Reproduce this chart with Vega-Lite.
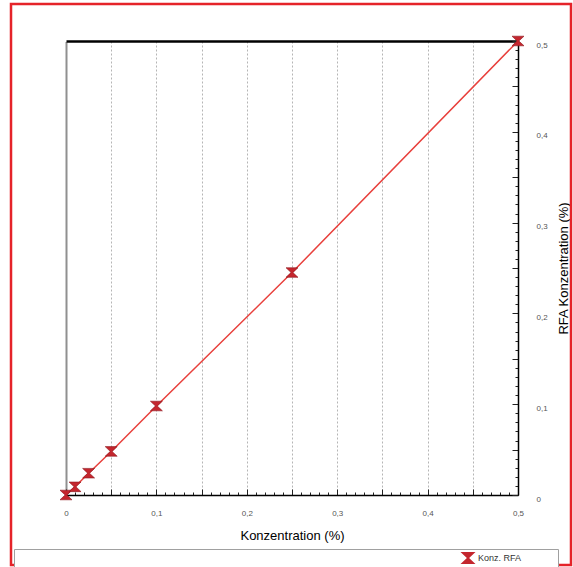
{
  "$schema": "https://vega.github.io/schema/vega-lite/v6.json",
  "width": 452,
  "height": 454,
  "autosize": {"type": "none"},
  "padding": {"left": 66, "top": 41, "right": 55, "bottom": 72},
  "background": "white",
  "config": {
    "view": {"stroke": null},
    "font": "Liberation Sans",
    "axis": {"labelFont": "Liberation Sans", "titleFont": "Liberation Sans"},
    "legend": {"labelFont": "Liberation Sans"}
  },
  "datasets": {
    "messung": [
      {"konz": 0, "rfa": 0, "serie": "Konz. RFA"},
      {"konz": 0.01, "rfa": 0.009, "serie": "Konz. RFA"},
      {"konz": 0.025, "rfa": 0.024, "serie": "Konz. RFA"},
      {"konz": 0.05, "rfa": 0.048, "serie": "Konz. RFA"},
      {"konz": 0.1, "rfa": 0.098, "serie": "Konz. RFA"},
      {"konz": 0.25, "rfa": 0.245, "serie": "Konz. RFA"},
      {"konz": 0.5, "rfa": 0.5, "serie": "Konz. RFA"}
    ]
  },
  "data": {"name": "messung"},
  "resolve": {
    "scale": {"x": "shared", "y": "shared"},
    "axis": {"x": "independent", "y": "independent"}
  },
  "layer": [
    {
      "data": {"values": [{"rahmen": "aussen"}]},
      "mark": {"type": "rect", "fill": null, "stroke": "#e52329", "strokeWidth": 2.5, "clip": false},
      "encoding": {
        "x": {"value": -55},
        "x2": {"value": 505},
        "y": {"value": -37},
        "y2": {"value": 524}
      }
    },
    {
      "mark": {"type": "line", "color": "#e8403c", "strokeWidth": 1.5},
      "encoding": {
        "x": {
          "field": "konz", "type": "quantitative",
          "scale": {"domain": [0, 0.5], "nice": false, "zero": false},
          "axis": {
            "orient": "bottom",
            "values": [0, 0.01, 0.02, 0.03, 0.04, 0.05, 0.06, 0.07, 0.08, 0.09, 0.1, 0.11, 0.12, 0.13, 0.14, 0.15, 0.16, 0.17, 0.18, 0.19, 0.2, 0.21, 0.22, 0.23, 0.24, 0.25, 0.26, 0.27, 0.28, 0.29, 0.3, 0.31, 0.32, 0.33, 0.34, 0.35, 0.36, 0.37, 0.38, 0.39, 0.4, 0.41, 0.42, 0.43, 0.44, 0.45, 0.46, 0.47, 0.48, 0.49, 0.5],
            "labelExpr": "abs(datum.value*10 - round(datum.value*10)) < 0.001 ? (datum.value == 0 ? '0' : replace(format(datum.value, '.1f'), '.', ',')) : ''",
            "labelOverlap": false, "labelFlush": false, "labelBound": false,
            "labelFontSize": 8, "labelColor": "#555555", "labelPadding": 24, "labelBaseline": "middle",
            "ticks": true, "tickColor": "#222222", "tickWidth": 1,
            "tickSize": {"condition": {"test": "abs(datum.value*20 - round(datum.value*20)) < 0.001", "value": -6}, "value": -3},
            "grid": false,
            "domain": true, "domainColor": "#000000", "domainWidth": 1.5,
            "title": "Konzentration (%)", "titleFontSize": 13, "titleFontWeight": "normal", "titleColor": "#000000",
            "titleX": 226, "titleY": 40, "titleBaseline": "middle", "titleAlign": "center"
          }
        },
        "y": {
          "field": "rfa", "type": "quantitative",
          "scale": {"domain": [0, 0.5], "nice": false, "zero": false},
          "axis": {
            "orient": "right",
            "values": [0, 0.01, 0.02, 0.03, 0.04, 0.05, 0.06, 0.07, 0.08, 0.09, 0.1, 0.11, 0.12, 0.13, 0.14, 0.15, 0.16, 0.17, 0.18, 0.19, 0.2, 0.21, 0.22, 0.23, 0.24, 0.25, 0.26, 0.27, 0.28, 0.29, 0.3, 0.31, 0.32, 0.33, 0.34, 0.35, 0.36, 0.37, 0.38, 0.39, 0.4, 0.41, 0.42, 0.43, 0.44, 0.45, 0.46, 0.47, 0.48, 0.49, 0.5],
            "labelExpr": "abs(datum.value*10 - round(datum.value*10)) < 0.001 ? (datum.value == 0 ? '0' : replace(format(datum.value, '.1f'), '.', ',')) : ''",
            "labelOverlap": false, "labelFlush": false, "labelBound": false,
            "labelFontSize": 8, "labelColor": "#555555", "labelPadding": 24, "labelOffset": 4,
            "ticks": true, "tickColor": "#222222", "tickWidth": 1,
            "tickSize": {"condition": {"test": "abs(datum.value*20 - round(datum.value*20)) < 0.001", "value": -6}, "value": -3},
            "grid": false,
            "domain": true, "domainColor": "#000000", "domainWidth": 1.5,
            "title": "RFA Konzentration (%)", "titleFontSize": 13, "titleFontWeight": "normal", "titleColor": "#000000",
            "titleAngle": 270, "titleX": 45, "titleY": 227, "titleBaseline": "middle", "titleAlign": "center"
          }
        }
      }
    },
    {
      "mark": {"type": "point", "filled": true, "fill": "#c4262e", "stroke": "#8f1a20", "strokeWidth": 0.6, "opacity": 1, "size": 144},
      "encoding": {
        "x": {
          "field": "konz", "type": "quantitative",
          "axis": {
            "orient": "top", "labels": false, "ticks": false, "title": null,
            "values": [0.05, 0.1, 0.15, 0.2, 0.25, 0.3, 0.35, 0.4, 0.45],
            "grid": true, "gridColor": "#b5b5b5", "gridDash": [2, 2], "gridWidth": 1,
            "domain": true, "domainColor": "#000000", "domainWidth": 2.5
          }
        },
        "y": {
          "field": "rfa", "type": "quantitative",
          "axis": {
            "orient": "left", "labels": false, "ticks": false, "grid": false, "title": null,
            "domain": true, "domainColor": "#222222", "domainWidth": 2, "domainDash": [1, 1]
          }
        },
        "shape": {
          "field": "serie", "type": "nominal",
          "scale": {"range": ["M-1,-0.8L1,-0.8L0.15,0L1,0.8L-1,0.8L-0.15,0Z"]},
          "legend": {
            "orient": "none", "legendX": -52, "legendY": 508,
            "title": null, "padding": 1,
            "strokeColor": "#a0a0a0", "fillColor": "#ffffff",
            "symbolOffset": 445, "symbolSize": 225,
            "symbolFillColor": "#c4262e", "symbolStrokeColor": "#8f1a20", "symbolStrokeWidth": 0.6,
            "labelOffset": 2, "labelFontSize": 9, "labelColor": "#333333",
            "labelExpr": "datum.label + '\u2800\u2800\u2800\u2800\u2800'"
          }
        }
      }
    }
  ]
}
